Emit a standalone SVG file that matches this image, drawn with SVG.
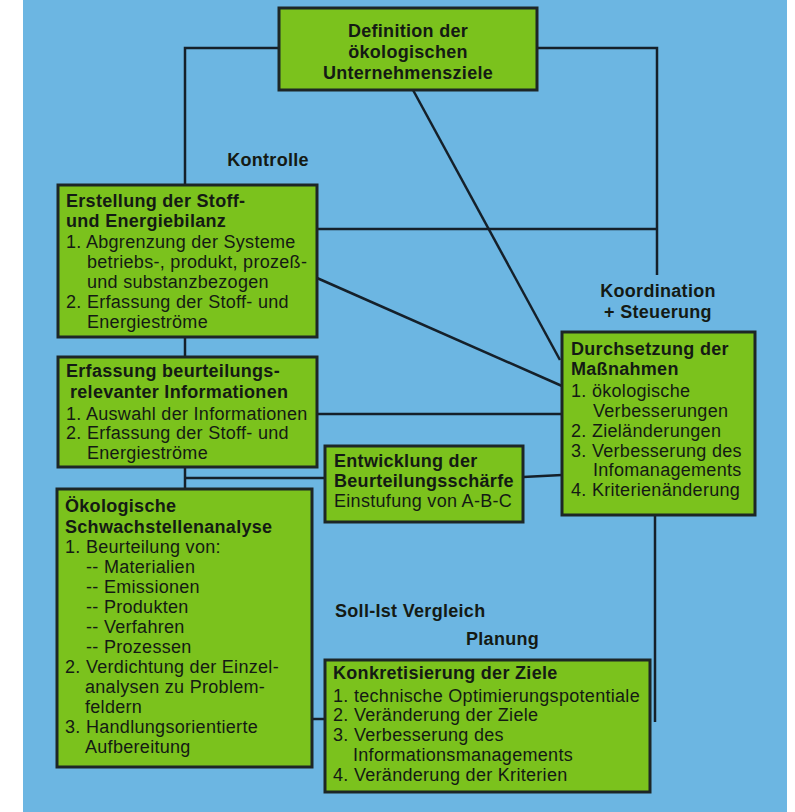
<svg xmlns="http://www.w3.org/2000/svg" width="795" height="812" viewBox="0 0 795 812">
<style>
.bg{fill:#6cb6e2}
.box{fill:#7bc21d;stroke:#1d2626;stroke-width:3}
.ln{stroke:#15202a;stroke-width:2.5;fill:none}
text{font-family:"Liberation Sans",Arial,sans-serif;font-size:18px;fill:#141a14;letter-spacing:0.3px}
.b{font-weight:bold}
.c{text-anchor:middle}
</style>
<rect x="0" y="0" width="795" height="812" fill="#ffffff"/>
<rect class="bg" x="23" y="0" width="764" height="812"/>
<g id="connectors">
<polyline class="ln" points="279,48 185,48 185,185"/>
<polyline class="ln" points="537,48 657,48 657,275"/>
<line class="ln" x1="317" y1="229" x2="657" y2="229"/>
<line class="ln" x1="413" y1="90" x2="560" y2="360"/>
<line class="ln" x1="317" y1="278" x2="562" y2="386"/>
<line class="ln" x1="185" y1="337" x2="185" y2="357"/>
<line class="ln" x1="185" y1="467" x2="185" y2="489"/>
<line class="ln" x1="317" y1="414" x2="562" y2="414"/>
<line class="ln" x1="185" y1="478" x2="325" y2="478"/>
<line class="ln" x1="523" y1="477" x2="562" y2="475"/>
<line class="ln" x1="655" y1="515" x2="655" y2="722"/>
<line class="ln" x1="312" y1="719" x2="325" y2="719"/>
</g>
<g id="labels">
<text class="b c" x="268" y="166">Kontrolle</text>
<text class="b c" x="658" y="297">Koordination</text>
<text class="b c" x="658" y="318">+ Steuerung</text>
<text class="b" x="335" y="617">Soll-Ist Vergleich</text>
<text class="b" x="466" y="645">Planung</text>
</g>
<g id="n-ziele">
<rect class="box" x="279" y="8" width="258" height="82"/>
<text class="b c" x="408" y="37">Definition der</text>
<text class="b c" x="408" y="58">ökologischen</text>
<text class="b c" x="408" y="79">Unternehmensziele</text>
</g>
<g id="n-bilanz">
<rect class="box" x="58" y="185" width="259" height="152"/>
<text class="b" x="66" y="207">Erstellung der Stoff-</text>
<text class="b" x="66" y="227">und Energiebilanz</text>
<text x="66" y="248">1. Abgrenzung der Systeme</text>
<text x="87" y="268">betriebs-, produkt, prozeß-</text>
<text x="87" y="288">und substanzbezogen</text>
<text x="66" y="308">2. Erfassung der Stoff- und</text>
<text x="87" y="328">Energieströme</text>
</g>
<g id="n-info">
<rect class="box" x="58" y="357" width="259" height="110"/>
<text class="b" x="66" y="377">Erfassung beurteilungs-</text>
<text class="b" x="70" y="398">relevanter Informationen</text>
<text x="66" y="420">1. Auswahl der Informationen</text>
<text x="66" y="439">2. Erfassung der Stoff- und</text>
<text x="87" y="459">Energieströme</text>
</g>
<g id="n-schwach">
<rect class="box" x="57" y="489" width="255" height="278"/>
<text class="b" x="65" y="512">Ökologische</text>
<text class="b" x="65" y="533">Schwachstellenanalyse</text>
<text x="65" y="553">1. Beurteilung von:</text>
<text x="86" y="573">-- Materialien</text>
<text x="86" y="593">-- Emissionen</text>
<text x="86" y="613">-- Produkten</text>
<text x="86" y="633">-- Verfahren</text>
<text x="86" y="653">-- Prozessen</text>
<text x="65" y="673">2. Verdichtung der Einzel-</text>
<text x="85" y="693">analysen zu Problem-</text>
<text x="85" y="713">feldern</text>
<text x="65" y="733">3. Handlungsorientierte</text>
<text x="85" y="753">Aufbereitung</text>
</g>
<g id="n-schaerfe">
<rect class="box" x="325" y="446" width="198" height="76"/>
<text class="b" x="334" y="467">Entwicklung der</text>
<text class="b" x="334" y="487">Beurteilungsschärfe</text>
<text x="334" y="507">Einstufung von A-B-C</text>
</g>
<g id="n-massnahmen">
<rect class="box" x="562" y="332" width="193" height="183"/>
<text class="b" x="571" y="355">Durchsetzung der</text>
<text class="b" x="571" y="375">Maßnahmen</text>
<text x="571" y="397">1. ökologische</text>
<text x="593" y="417">Verbesserungen</text>
<text x="571" y="437">2. Zieländerungen</text>
<text x="571" y="457">3. Verbesserung des</text>
<text x="593" y="476">Infomanagements</text>
<text x="571" y="496">4. Kriterienänderung</text>
</g>
<g id="n-konkret">
<rect class="box" x="325" y="660" width="325" height="132"/>
<text class="b" x="333" y="679">Konkretisierung der Ziele</text>
<text x="333" y="702">1. technische Optimierungspotentiale</text>
<text x="333" y="721">2. Veränderung der Ziele</text>
<text x="333" y="741">3. Verbesserung des</text>
<text x="353" y="761">Informationsmanagements</text>
<text x="333" y="781">4. Veränderung der Kriterien</text>
</g>
</svg>
